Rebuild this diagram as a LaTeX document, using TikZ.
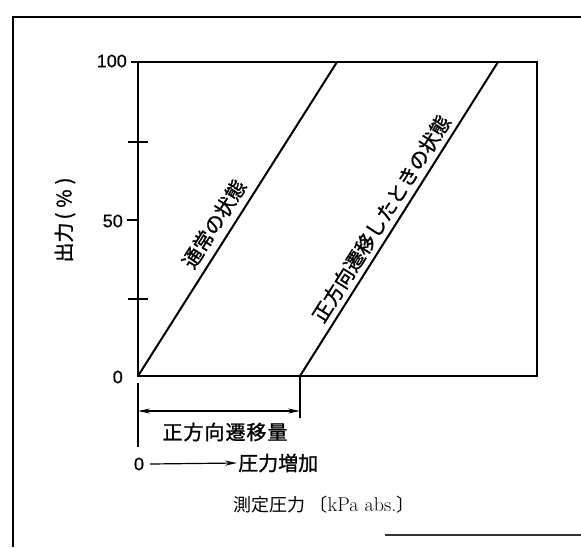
\documentclass[tikz,border=0pt]{standalone}
\usepackage{fontspec}
\newfontfamily\jp{Noto Sans CJK JP}
\newfontfamily\jpm{Noto Sans CJK JP}[FakeBold=1.2]
\newfontfamily\numf{Liberation Sans}[FakeBold=0.8]
\usetikzlibrary{arrows.meta}
\tikzset{
  frame/.style={line width=2pt},
  plotbox/.style={line width=1.3pt},
  curve/.style={line width=2pt},
  tick/.style={line width=1.2pt},
  jplabel/.style={font=\jpm\fontsize{20}{20}\selectfont, inner sep=1pt},
  jpsmall/.style={font=\jp\fontsize{18}{18}\selectfont, inner sep=1pt},
  numlabel/.style={font=\numf\fontsize{18}{18}\selectfont, inner sep=1pt},
  dim/.style={line width=1.2pt},
  arr/.style={line width=1.2pt, -{Stealth[length=12pt,width=5pt]}},
  darr/.style={line width=1.2pt, {Stealth[length=12pt,width=5pt]}-{Stealth[length=12pt,width=5pt]}}
}
\begin{document}
\begin{tikzpicture}[x=1pt,y=-1pt]
\useasboundingbox (0,0) rectangle (581,547);
% outer frame (scan border)
\coordinate (F1) at (13,547);
\coordinate (F2) at (13,17);
\coordinate (F3) at (581,17);
\draw[frame] (F1) -- (F2) -- (F3);
\coordinate (B1) at (385,535);
\coordinate (B2) at (581,535);
\draw[line width=1.2pt, black!80] (B1) -- (B2);
% plot box
\coordinate (O) at (138,376);
\coordinate (TR) at (537,62);
\draw[plotbox] (O) rectangle (TR);
% curves
\coordinate (S) at (300,376);
\coordinate (A1) at (337,62);
\coordinate (A2) at (498,62);
\draw[curve] (O) -- (A1) node[pos=0.455, sloped, above=6pt, jplabel] (L1) {通常の状態};
\draw[curve] (S) -- (A2) node[pos=0.475, sloped, above=4pt, jplabel] (L2) {正方向遷移したときの状態};
% ticks
\coordinate (t100a) at (131,62);  \coordinate (t100b) at (138,62);
\coordinate (t75a) at (128,142);  \coordinate (t75b) at (148,142);
\coordinate (t50a) at (127,220);  \coordinate (t50b) at (139,220);
\coordinate (t25a) at (128,299);  \coordinate (t25b) at (148,299);
\draw[tick] (t100a) -- (t100b);
\draw[tick] (t75a) -- (t75b);
\draw[tick] (t50a) -- (t50b);
\draw[tick] (t25a) -- (t25b);
\node[numlabel, anchor=east] (n100) at (128,61) {100};
\node[numlabel, anchor=east] (n50) at (124,221) {50};
\node[numlabel, anchor=east] (n0) at (124,377) {0};
\node[jplabel, rotate=90] (ylab) at (65,220) {出力\hspace{3pt}(\hspace{5pt}\%\hspace{5pt})};
% below-axis dimension
\coordinate (V1a) at (138,383);
\coordinate (V1b) at (138,447);
\coordinate (V2a) at (300,376);
\coordinate (V2b) at (300,418);
\draw[dim] (V1a) -- (V1b);
\draw[dim] (V2a) -- (V2b);
\coordinate (D1) at (138,411);
\coordinate (D2) at (300,411);
\draw[darr] (D1) -- (D2);
\node[jplabel] (shift) at (225,432) {正\hspace{1pt}方\hspace{1pt}向\hspace{1pt}遷\hspace{1pt}移\hspace{1pt}量};
\node[numlabel] (z0) at (139,464) {0};
\node[jplabel, anchor=west] (inc) at (237,463) {圧力増加};
\draw[arr] (z0.east) ++(5,0) coordinate (P1) -- (inc.west);
\node[jpsmall] (xlab) at (324,505) {測定圧力\hspace{4pt}〔{\rmfamily\fontsize{20}{20}\selectfont kPa abs.}〕};
\end{tikzpicture}
\end{document}
